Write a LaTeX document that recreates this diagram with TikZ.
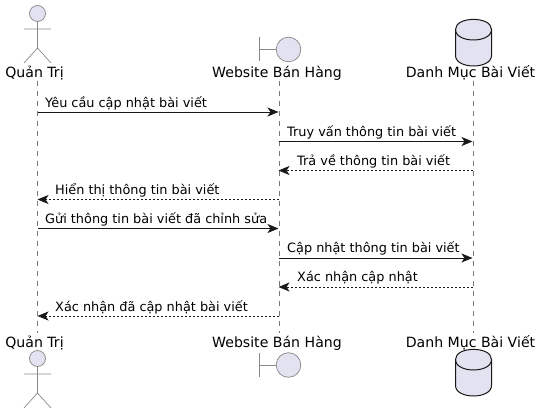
\documentclass[tikz,border=0pt]{standalone}
\usepackage{fontspec}
\setmainfont{DejaVu Sans}
\usetikzlibrary{arrows.meta}

\begin{document}
\begin{tikzpicture}[x=1pt,y=-1pt,
  shapefill/.style={fill=lifefill,draw=actorline,line width=0.7pt},
  lifeline/.style={draw=lifegray,dashed,dash pattern=on 5pt off 5pt,line width=0.7pt},
  msgline/.style={draw=msgblack,line width=0.8pt,-{Stealth[length=11pt,width=9pt,inset=3pt]}},
  msgback/.style={msgline,densely dashed,dash pattern=on 2pt off 2pt},
  msglabel/.style={anchor=base west,inner sep=0pt,font=\fontsize{12.85}{15}\selectfont,text=black},
  partlabel/.style={anchor=base,inner sep=0pt,font=\fontsize{14.1}{16}\selectfont,text=black}]

% Define colors
\definecolor{lifefill}{RGB}{226,226,240}
\definecolor{actorline}{RGB}{136,136,136}
\definecolor{lifegray}{RGB}{120,120,120}
\definecolor{msgblack}{RGB}{24,24,24}

\useasboundingbox (0,0) rectangle (541,414);

% Lifelines
\coordinate (admintop) at (37.5,81);
\coordinate (adminbot) at (37.5,333);
\coordinate (webtop) at (279,81);
\coordinate (webbot) at (279,333);
\coordinate (dbtop) at (473,81);
\coordinate (dbbot) at (473,333);
\draw[lifeline] (admintop) -- (adminbot);
\draw[lifeline] (webtop) -- (webbot);
\draw[lifeline] (dbtop) -- (dbbot);

% Message rows
\foreach \row/\ypos in {1/112,2/141.5,3/170.5,4/199.5,5/228.5,6/258,7/287,8/316}{
  \coordinate (admin\row) at (37.5,\ypos);
  \coordinate (web\row) at (278.5,\ypos);
  \coordinate (db\row) at (472.5,\ypos);
}

% Messages
\draw[msgline] (admin1) -- (web1);
\node[msglabel] (msga) at (45,108) {Yêu cầu cập nhật bài viết};
\draw[msgline] (web2) -- (db2);
\node[msglabel] (msgb) at (287,137) {Truy vấn thông tin bài viết};
\draw[msgback] (db3) -- (web3);
\node[msglabel] (msgc) at (297,166) {Trả về thông tin bài viết};
\draw[msgback] (web4) -- (admin4);
\node[msglabel] (msgd) at (55,195) {Hiển thị thông tin bài viết};
\draw[msgline] (admin5) -- (web5);
\node[msglabel] (msge) at (45,224) {Gửi thông tin bài viết đã chỉnh sửa};
\draw[msgline] (web6) -- (db6);
\node[msglabel] (msgf) at (287,253) {Cập nhật thông tin bài viết};
\draw[msgback] (db7) -- (web7);
\node[msglabel] (msgg) at (297,282) {Xác nhận cập nhật};
\draw[msgback] (web8) -- (admin8);
\node[msglabel] (msgh) at (55,311) {Xác nhận đã cập nhật bài viết};

% Participants, top and bottom
\foreach \lbl/\ylabel/\yact/\yweb/\ydb in {top/78/0/0/0,bot/347/345/315.5/330}{
  \node[partlabel] (admin\lbl) at (34.5,\ylabel) {Quản Trị};
  \node[partlabel] (web\lbl) at (277,\ylabel) {Website Bán Hàng};
  \node[partlabel] (db\lbl) at (470.5,\ylabel) {Danh Mục Bài Viết};

  % actor
  \begin{scope}[yshift=-\yact pt]
    \filldraw[shapefill] (37.5,13.5) circle (8);
    \draw[actorline,line width=0.7pt] (37.5,21.5) -- (37.5,48) (24,29) -- (51,29)
      (24,63) -- (37.5,48) -- (51,63);
  \end{scope}

  % boundary
  \begin{scope}[yshift=-\yweb pt]
    \draw[actorline,line width=0.7pt] (259.5,37.5) -- (259.5,61.5) (259.5,49.5) -- (276,49.5);
    \filldraw[shapefill] (288.5,49.5) circle (12.3);
  \end{scope}

  % database
  \begin{scope}[yshift=-\ydb pt]
    \filldraw[fill=lifefill,draw=msgblack,line width=1pt] (455.5,29.5)
      .. controls (455.5,16) and (491.5,16) .. (491.5,29.5) -- (491.5,55.5)
      .. controls (491.5,69.5) and (455.5,69.5) .. (455.5,55.5) -- cycle;
    \draw[msgblack,line width=1pt] (455.5,29.5) .. controls (455.5,43.5) and (491.5,43.5) .. (491.5,29.5);
  \end{scope}
}

\end{tikzpicture}
\end{document}
